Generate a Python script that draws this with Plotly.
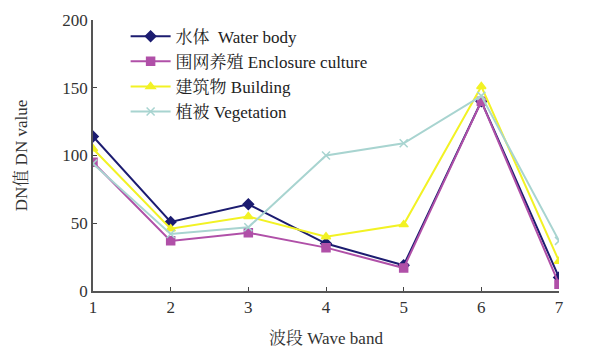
import plotly.graph_objects as go

bands = [1, 2, 3, 4, 5, 6, 7]
water = [114, 51, 64, 35, 19, 140, 10]
enclosure = [95, 37, 43, 32, 17, 140, 5]
building = [105, 46, 55, 40, 49, 151, 22]
vegetation = [94, 42, 47, 100, 109, 144, 37]

names = ["水体  Water body", "围网养殖 Enclosure culture", "建筑物 Building", "植被 Vegetation"]
colors = ["#1c1c70", "#b050a8", "#f2f224", "#a8d4d0"]
symbols = ["diamond", "square", "triangle-up", "x-thin"]
series = [water, enclosure, building, vegetation]

FONT = "Liberation Serif, Noto Serif CJK SC, Noto Sans CJK SC, serif"

fig = go.Figure()
for name, vals, c, s in zip(names, series, colors, symbols):
    fig.add_trace(go.Scatter(
        x=bands, y=vals, mode="lines+markers", name=name,
        line=dict(color=c, width=2),
        marker=dict(symbol=s, size=8, color=c, line=dict(color=c, width=1.5)),
    ))

fig.update_layout(
    width=600, height=351,
    margin=dict(l=93, r=41, t=20, b=60),
    paper_bgcolor="white", plot_bgcolor="white",
    font=dict(family=FONT, size=17, color="#333333"),
    showlegend=True,
    legend=dict(x=0.07, y=1.005, xanchor="left", yanchor="top",
                bgcolor="rgba(0,0,0,0)", font=dict(size=17, color="#222222"),
                tracegroupgap=0, itemwidth=40),
    xaxis=dict(range=[1, 7], tickvals=bands, ticks="inside", ticklen=4,
               showline=True, linecolor="#555555", linewidth=1.5, automargin=False,
               showgrid=False, zeroline=False, tickfont=dict(size=17),
               title=dict(text="波段 Wave band", font=dict(size=17), standoff=16)),
    yaxis=dict(range=[0, 200], tickvals=[0, 50, 100, 150, 200], ticks="inside", ticklen=4,
               showline=True, linecolor="#555555", linewidth=1.5, automargin=False,
               showgrid=False, zeroline=False, tickfont=dict(size=17),
               title=dict(text="DN值 DN value", font=dict(size=17), standoff=30)),
)

fig.write_html("out.html")
